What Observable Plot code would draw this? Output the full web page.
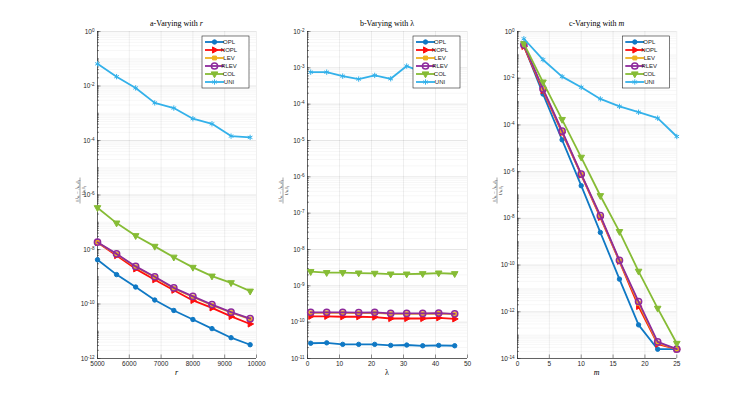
<!DOCTYPE html>
<html><head><meta charset="utf-8">
<script src="https://cdn.jsdelivr.net/npm/d3@7"></script>
<script src="https://cdn.jsdelivr.net/npm/@observablehq/plot@0.6"></script>
<style>
body{margin:0;background:#fff}
#wrap{position:relative;width:747px;height:403px;overflow:hidden;background:#fff}
</style>
</head><body><div id="wrap"></div>
<script>
// ---------- data ----------
const methods = ["OPL","NOPL","LEV","RLEV","COL","UNI"];
const colors  = ["#0F78C4","#FF0D0D","#EDB120","#8E2A9C","#86BC35","#33B1EA"];

// panel a: varying r
const rValues = [5000,5600,6200,6800,7400,8000,8600,9200,9800];
const aOPL  = [4.2e-9,1.2e-9,4.2e-10,1.4e-10,5.8e-11,2.7e-11,1.25e-11,5.8e-12,3.2e-12];
const aNOPL = [1.8e-8,6.0e-9,1.95e-9,7.8e-10,3.2e-10,1.35e-10,7.2e-11,3.5e-11,1.85e-11];
const aLEV  = [1.8e-8,6.7e-9,2.3e-9,9.6e-10,3.7e-10,1.8e-10,9.0e-11,4.8e-11,2.8e-11];
const aRLEV = [1.85e-8,6.9e-9,2.4e-9,1.0e-9,3.9e-10,1.9e-10,9.5e-11,5.0e-11,2.9e-11];
const aCOL  = [3.4e-7,9.3e-8,3.2e-8,1.3e-8,5.2e-9,2.2e-9,1.05e-9,6.0e-10,2.95e-10];
const aUNI  = [6.5e-2,2.2e-2,8.5e-3,2.4e-3,1.55e-3,6.3e-4,4.1e-4,1.45e-4,1.3e-4];

// panel b: varying lambda
const lambdaValues = [1,6,11,16,21,26,31,36,41,46];
const bOPL  = [2.63e-11,2.7e-11,2.45e-11,2.45e-11,2.45e-11,2.3e-11,2.35e-11,2.24e-11,2.3e-11,2.24e-11];
const bNOPL = [1.45e-10,1.45e-10,1.41e-10,1.41e-10,1.38e-10,1.26e-10,1.26e-10,1.26e-10,1.32e-10,1.23e-10];
const bLEV  = [1.8e-10,1.8e-10,1.8e-10,1.77e-10,1.8e-10,1.7e-10,1.7e-10,1.7e-10,1.73e-10,1.66e-10];
const bRLEV = [1.86e-10,1.86e-10,1.86e-10,1.82e-10,1.86e-10,1.74e-10,1.74e-10,1.74e-10,1.78e-10,1.7e-10];
const bCOL  = [2.45e-9,2.3e-9,2.3e-9,2.24e-9,2.2e-9,2.1e-9,2.1e-9,2.15e-9,2.24e-9,2.15e-9];
const bUNI  = [7.6e-4,7.6e-4,5.9e-4,4.9e-4,6.2e-4,5.0e-4,1.12e-3,7.6e-4,8.0e-4,8.5e-4];

// panel c: varying m
const mValues = [1,4,7,10,13,16,19,22,25];
const cOPL  = [0.25,2.1e-3,2.3e-5,2.5e-7,2.5e-9,2.5e-11,2.75e-13,2.5e-14,2.5e-14];
const cNOPL = [0.23,2.95e-3,4.7e-5,7.2e-7,1.1e-8,1.45e-10,1.7e-12,4.1e-14,2.5e-14];
const cLEV  = [0.26,3.3e-3,5.1e-5,7.6e-7,1.2e-8,1.5e-10,2.3e-12,4.6e-14,2.5e-14];
const cRLEV = [0.27,3.5e-3,5.4e-5,7.9e-7,1.3e-8,1.6e-10,2.75e-12,5.1e-14,2.5e-14];
const cCOL  = [0.30,6.8e-3,1.7e-4,4.1e-6,9.3e-8,2.7e-9,5.4e-11,1.4e-12,4.4e-14];
const cUNI  = [0.49,6.2e-2,1.17e-2,4.1e-3,1.3e-3,6.2e-4,3.5e-4,1.95e-4,3.2e-5];

// ticks
const aXTicks = [5000,6000,7000,8000,9000,10000];
const aYTicks = [1,1e-2,1e-4,1e-6,1e-8,1e-10,1e-12];
const bXTicks = [0,10,20,30,40,50];
const bYTicks = [1e-2,1e-3,1e-4,1e-5,1e-6,1e-7,1e-8,1e-9,1e-10,1e-11];
const cXTicks = [0,5,10,15,20,25];
const cYTicks = [1,1e-2,1e-4,1e-6,1e-8,1e-10,1e-12,1e-14];

// ---------- helpers ----------
const supMap = {"0":"⁰","1":"¹","2":"²","3":"³","4":"⁴","5":"⁵","6":"⁶","7":"⁷","8":"⁸","9":"⁹","-":"⁻"};
const fmtPow = v => "10" + String(Math.round(Math.log10(v))).split("").map(c => supMap[c]).join("");
const unSup = {}; Object.entries(supMap).forEach(([k, v]) => unSup[v] = k);

const triRight = {draw(ctx, size){ const r = Math.sqrt(size/Math.PI);
  ctx.moveTo(r*1.25,0); ctx.lineTo(-r*0.7,-r*1.1); ctx.lineTo(-r*0.7,r*1.1); ctx.closePath(); }};
const triDown = {draw(ctx, size){ const r = Math.sqrt(size/Math.PI);
  ctx.moveTo(0,r*1.25); ctx.lineTo(-r*1.1,-r*0.7); ctx.lineTo(r*1.1,-r*0.7); ctx.closePath(); }};

const markerStyle = {
  OPL:  {symbol: "circle", r: 2.2, filled: true, sw: 1},
  NOPL: {symbol: triRight, r: 2.8, filled: true, sw: 1},
  LEV:  {symbol: "square", r: 2.2, filled: true, sw: 1},
  RLEV: {symbol: "circle", r: 3.1, filled: false, sw: 1.5},
  COL:  {symbol: triDown, r: 3.0, filled: true, sw: 1},
  UNI:  {symbol: "asterisk", r: 2.5, filled: false, sw: 1}
};
const colorOf = m => colors[methods.indexOf(m)];

function minorTicks(lo, hi){
  const out = [];
  for (let e = Math.floor(Math.log10(lo)); e <= Math.ceil(Math.log10(hi)); e++)
    for (let k = 1; k <= 9; k++){ const v = k*Math.pow(10,e); if (v >= lo*0.999 && v <= hi*1.001) out.push(v); }
  return out;
}

const panels = [
  {xs: rValues, series: [aOPL,aNOPL,aLEV,aRLEV,aCOL,aUNI], xDomain:[5000,10000], xTicks:aXTicks,
   yDomain:[1e-12,1], yTicks:aYTicks, plotLeft:97, plotW:159, title:["a-Varying with ","r"], xlabel:"r", xItalic:true, ylabOff:17},
  {xs: lambdaValues, series: [bOPL,bNOPL,bLEV,bRLEV,bCOL,bUNI], xDomain:[0,50], xTicks:bXTicks,
   yDomain:[1e-11,1e-2], yTicks:bYTicks, plotLeft:306.7, plotW:160, title:["b-Varying with ","λ"], xlabel:"λ", xItalic:false, ylabOff:24},
  {xs: mValues, series: [cOPL,cNOPL,cLEV,cRLEV,cCOL,cUNI], xDomain:[0,25], xTicks:cXTicks,
   yDomain:[1e-14,1], yTicks:cYTicks, plotLeft:516.7, plotW:159.3, title:["c-Varying with ","m"], xlabel:"m", xItalic:true, ylabOff:20}
];

const ML = 60, MR = 12, MT = 31, MB = 45, H = 403, PH = H - MT - MB;
const wrap = document.getElementById("wrap");

for (const p of panels) {
  const rows = [];
  methods.forEach((m, i) => p.series[i].forEach((v, j) => rows.push({method: m, x: p.xs[j], y: v})));
  const [lo, hi] = p.yDomain, [x0, x1] = p.xDomain;
  const minor = minorTicks(lo, hi);
  const dxPx = px => x0 + (x1 - x0) * px / p.plotW;
  const dyPx = px => lo * Math.pow(hi / lo, px / PH);

  const marks = [
    Plot.ruleY(minor, {stroke: "#000", strokeOpacity: 0.07, strokeWidth: 0.5}),
    Plot.ruleY(p.yTicks, {stroke: "#000", strokeOpacity: 0.13, strokeWidth: 0.5}),
    Plot.ruleX(p.xTicks, {stroke: "#000", strokeOpacity: 0.13, strokeWidth: 0.5}),
    // inward ticks
    Plot.ruleY(minor, {x1: x0, x2: dxPx(2), stroke: "#262626", strokeWidth: 0.5}),
    Plot.ruleY(p.yTicks, {x1: x0, x2: dxPx(3.5), stroke: "#262626", strokeWidth: 0.5}),
    Plot.ruleX(p.xTicks, {y1: lo, y2: dyPx(3.5), stroke: "#262626", strokeWidth: 0.5}),
    // axis lines
    Plot.ruleX([x0], {stroke: "#262626", strokeWidth: 0.7}),
    Plot.ruleY([lo], {stroke: "#262626", strokeWidth: 0.7})
  ];
  for (const m of methods) {
    const d = rows.filter(r => r.method === m);
    const s = markerStyle[m];
    marks.push(Plot.line(d, {x: "x", y: "y", stroke: colorOf(m), strokeWidth: 1.8}));
    marks.push(Plot.dot(d, {x: "x", y: "y", symbol: s.symbol, r: s.r,
      fill: s.filled ? colorOf(m) : "none", stroke: colorOf(m), strokeWidth: s.sw}));
  }

  const W = ML + p.plotW + MR;
  const svg = Plot.plot({
    width: W, height: H, marginLeft: ML, marginRight: MR, marginTop: MT, marginBottom: MB,
    style: {background: "transparent", fontFamily: "'Liberation Sans', Arial, sans-serif", fontSize: "6.5px", color: "#262626", overflow: "visible"},
    x: {domain: p.xDomain, ticks: p.xTicks, tickFormat: d => String(d), tickSize: 0, tickPadding: 3, label: null},
    y: {type: "log", domain: p.yDomain, ticks: p.yTicks, tickFormat: fmtPow, tickSize: 0, tickPadding: 3, label: null},
    marks
  });
  svg.style.position = "absolute";
  svg.style.left = (p.plotLeft - ML) + "px";
  svg.style.top = "0px";
  svg.style.maxWidth = "none";
  wrap.appendChild(svg);

  // render exponent as a raised, smaller tspan
  d3.select(svg).selectAll("text").each(function(){
    const s = this.textContent;
    if (/^10[⁰¹²³⁴⁵⁶⁷⁸⁹⁻]+$/.test(s)) {
      const ex = s.slice(2).split("").map(c => unSup[c]).join("");
      const el = d3.select(this);
      el.text("10");
      el.append("tspan").attr("font-size", 4.6).attr("dy", "-0.45em").text(ex);
    }
  });

  const g = d3.select(svg).append("g");
  const cx = ML + p.plotW / 2;
  // title
  const t = g.append("text").attr("x", cx).attr("y", 26).attr("text-anchor", "middle")
    .attr("font-family", "'Liberation Serif', 'Times New Roman', serif").attr("font-size", 8).attr("fill", "#000");
  t.append("tspan").text(p.title[0]);
  t.append("tspan").attr("font-style", p.xItalic ? "italic" : "normal").text(p.title[1]);
  // x label
  g.append("text").attr("x", cx).attr("y", 375).attr("text-anchor", "middle")
    .attr("font-family", "'Liberation Serif', 'Times New Roman', serif").attr("font-size", 8)
    .attr("font-style", p.xItalic ? "italic" : "normal").attr("fill", "#000").text(p.xlabel);
  // y label (fraction)
  const yl = g.append("g").attr("transform", `translate(${ML - p.ylabOff},${MT + PH / 2 - 4}) rotate(-90)`)
    .attr("font-family", "'Liberation Serif', 'Times New Roman', serif").attr("font-size", 4.6).attr("fill", "#262626")
    .attr("text-anchor", "middle");
  yl.append("text").attr("y", -1.2).text("‖Âₖ − Âₛ,ₖ‖₂");
  yl.append("line").attr("x1", -13).attr("x2", 13).attr("y1", 0).attr("y2", 0).attr("stroke", "#262626").attr("stroke-width", 0.4);
  yl.append("text").attr("y", 4.6).text("‖Aₖ‖₂");

  // legend
  const bx = ML + p.plotW - 54, by = 36, bw = 47, bh = 52;
  const lg = g.append("g");
  lg.append("rect").attr("x", bx).attr("y", by).attr("width", bw).attr("height", bh)
    .attr("fill", "#fff").attr("stroke", "#262626").attr("stroke-width", 0.6);
  methods.forEach((m, i) => {
    const yy = by + 6 + i * 8;
    const c = colorOf(m), s = markerStyle[m];
    lg.append("line").attr("x1", bx + 3).attr("x2", bx + 22).attr("y1", yy).attr("y2", yy)
      .attr("stroke", c).attr("stroke-width", 1.8);
    const symType = typeof s.symbol === "string" ? {circle: d3.symbolCircle, square: d3.symbolSquare, asterisk: d3.symbolAsterisk}[s.symbol] : s.symbol;
    lg.append("path").attr("transform", `translate(${bx + 12.5},${yy})`)
      .attr("d", d3.symbol(symType, s.r * s.r * Math.PI)())
      .attr("fill", s.filled ? c : "none").attr("stroke", c).attr("stroke-width", s.sw);
    lg.append("text").attr("x", bx + 27).attr("y", yy).attr("dy", "0.35em")
      .attr("font-size", 6).attr("fill", "#262626").text(m);
  });
}
</script>
</body></html>
